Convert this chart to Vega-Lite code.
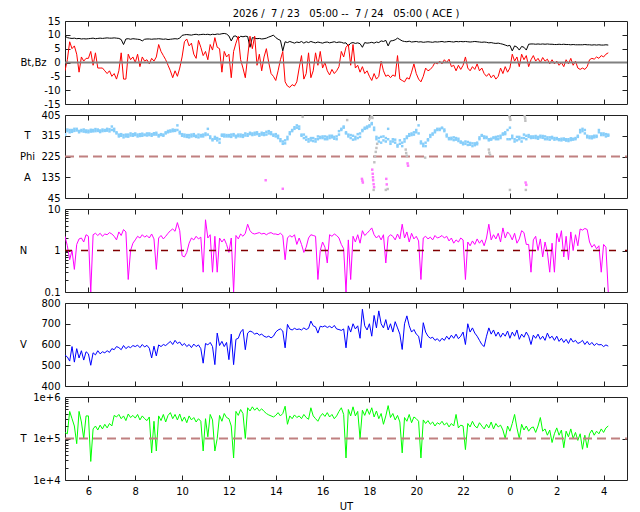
{
  "$schema": "https://vega.github.io/schema/vega-lite/v6.json",
  "padding": {"left": 18, "top": 8, "right": 5, "bottom": 5},
  "title": {
    "text": "2026 /\u00a0\u00a07 / 23\u00a0\u00a0\u00a005:00 --\u00a0\u00a07 / 24\u00a0\u00a0\u00a005:00 ( ACE )",
    "frame": "group", "anchor": "middle", "fontSize": 10, "fontWeight": "normal",
    "font": "DejaVu Sans", "color": "#000", "offset": -3
  },
  "config": {
    "view": {"stroke": "#222", "strokeWidth": 1},
    "font": "DejaVu Sans",
    "axis": {
      "domain": false, "grid": false, "labelFont": "DejaVu Sans", "labelFontSize": 10,
      "labelColor": "#000", "tickColor": "#222", "tickSize": -5, "labelPadding": 10,
      "titleFont": "DejaVu Sans", "titleFontSize": 10, "titleFontWeight": "normal",
      "titleColor": "#000", "labelOverlap": false, "labelFlush": false, "labelBound": false
    }
  },
  "datasets": {
    "main": [
      {"h":5.0,"bt":9.5,"bz":-3,"p":322,"q":318,"n":2.2,"v":548,"t":140000},
      {"h":5.1,"bt":9.0,"bz":1,"p":335,"q":342,"n":1.3,"v":540,"t":130000},
      {"h":5.2,"bt":8.8,"bz":7.5,"p":340,"q":330,"n":0.6,"v":520,"t":450000},
      {"h":5.3,"bt":8.7,"bz":5,"p":332,"q":340,"n":1.0,"v":590,"t":300000},
      {"h":5.4,"bt":8.8,"bz":6,"p":345,"q":336,"n":0.35,"v":515,"t":200000},
      {"h":5.5,"bt":8.6,"bz":3,"p":338,"q":345,"n":1.4,"v":580,"t":75000},
      {"h":5.6,"bt":8.7,"bz":-3.5,"p":336,"q":330,"n":1.9,"v":535,"t":450000},
      {"h":5.7,"bt":8.5,"bz":2,"p":340,"q":335,"n":2.0,"v":570,"t":250000},
      {"h":5.8,"bt":8.6,"bz":0.5,"p":333,"q":342,"n":1.6,"v":525,"t":100000},
      {"h":5.9,"bt":8.5,"bz":1.5,"p":338,"q":331,"n":2.4,"v":565,"t":350000},
      {"h":6.0,"bt":8.6,"bz":1.5,"p":337,"q":330,"n":2.2,"v":555,"t":350000},
      {"h":6.1,"bt":8.7,"bz":4,"p":333,"q":341,"n":0.1,"v":500,"t":28000},
      {"h":6.2,"bt":8.8,"bz":-1,"p":340,"q":334,"n":2.4,"v":560,"t":170000},
      {"h":6.3,"bt":8.6,"bz":3.5,"p":335,"q":344,"n":2.6,"v":550,"t":200000},
      {"h":6.4,"bt":8.7,"bz":-2,"p":342,"q":336,"n":2.3,"v":570,"t":160000},
      {"h":6.5,"bt":8.8,"bz":-2,"p":338,"q":331,"n":2.6,"v":555,"t":210000},
      {"h":6.6,"bt":8.7,"bz":-2,"p":335,"q":342,"n":2.2,"v":565,"t":170000},
      {"h":6.7,"bt":8.8,"bz":-3,"p":340,"q":336,"n":2.5,"v":560,"t":220000},
      {"h":6.8,"bt":8.9,"bz":-4,"p":337,"q":345,"n":2.4,"v":570,"t":180000},
      {"h":6.9,"bt":8.8,"bz":-3,"p":343,"q":334,"n":2.7,"v":562,"t":230000},
      {"h":7.0,"bt":8.8,"bz":-5,"p":355,"q":340,"n":2.5,"v":580,"t":200000},
      {"h":7.1,"bt":8.9,"bz":-4,"p":335,"q":345,"n":2.2,"v":575,"t":360000},
      {"h":7.2,"bt":8.8,"bz":-6,"p":325,"q":330,"n":1.8,"v":590,"t":330000},
      {"h":7.3,"bt":8.7,"bz":-3,"p":320,"q":312,"n":2.8,"v":585,"t":380000},
      {"h":7.4,"bt":8.3,"bz":3.5,"p":315,"q":322,"n":2.3,"v":575,"t":300000},
      {"h":7.5,"bt":6.5,"bz":-6,"p":318,"q":308,"n":3.2,"v":595,"t":350000},
      {"h":7.6,"bt":8.5,"bz":-6,"p":312,"q":320,"n":2.8,"v":580,"t":270000},
      {"h":7.7,"bt":8.6,"bz":3,"p":320,"q":311,"n":0.2,"v":590,"t":390000},
      {"h":7.8,"bt":8.4,"bz":1,"p":316,"q":325,"n":1.0,"v":585,"t":320000},
      {"h":7.9,"bt":8.6,"bz":2,"p":322,"q":315,"n":1.5,"v":595,"t":360000},
      {"h":8.0,"bt":8.5,"bz":0,"p":318,"q":325,"n":1.8,"v":590,"t":310000},
      {"h":8.1,"bt":8.4,"bz":3,"p":312,"q":320,"n":2.2,"v":597,"t":380000},
      {"h":8.2,"bt":8.3,"bz":-1.5,"p":322,"q":314,"n":2.0,"v":585,"t":280000},
      {"h":8.3,"bt":7.8,"bz":2,"p":315,"q":324,"n":2.4,"v":600,"t":350000},
      {"h":8.4,"bt":8.4,"bz":0.5,"p":320,"q":318,"n":2.1,"v":588,"t":300000},
      {"h":8.5,"bt":8.5,"bz":1,"p":325,"q":316,"n":2.3,"v":596,"t":270000},
      {"h":8.6,"bt":8.5,"bz":-0.5,"p":318,"q":325,"n":2.0,"v":582,"t":330000},
      {"h":8.7,"bt":8.4,"bz":1.5,"p":322,"q":315,"n":2.5,"v":535,"t":45000},
      {"h":8.8,"bt":8.5,"bz":0.5,"p":326,"q":320,"n":1.9,"v":592,"t":260000},
      {"h":8.9,"bt":8.5,"bz":2,"p":320,"q":328,"n":0.35,"v":545,"t":50000},
      {"h":9.0,"bt":8.6,"bz":6.5,"p":318,"q":312,"n":2.0,"v":598,"t":350000},
      {"h":9.1,"bt":8.5,"bz":4,"p":322,"q":318,"n":2.3,"v":590,"t":270000},
      {"h":9.2,"bt":8.4,"bz":2.5,"p":315,"q":320,"n":1.9,"v":600,"t":380000},
      {"h":9.3,"bt":8.5,"bz":1,"p":325,"q":330,"n":2.2,"v":595,"t":250000},
      {"h":9.4,"bt":8.3,"bz":-1,"p":330,"q":336,"n":2.6,"v":605,"t":360000},
      {"h":9.5,"bt":8.4,"bz":-3,"p":338,"q":333,"n":3.0,"v":615,"t":420000},
      {"h":9.6,"bt":8.5,"bz":-5.5,"p":335,"q":342,"n":3.3,"v":600,"t":300000},
      {"h":9.7,"bt":8.6,"bz":-3,"p":340,"q":336,"n":2.9,"v":620,"t":380000},
      {"h":9.8,"bt":8.5,"bz":-5,"p":360,"q":340,"n":4.7,"v":605,"t":280000},
      {"h":9.9,"bt":8.8,"bz":-2,"p":332,"q":325,"n":3.0,"v":612,"t":390000},
      {"h":10.0,"bt":9.8,"bz":2,"p":315,"q":322,"n":0.75,"v":595,"t":260000},
      {"h":10.1,"bt":10.0,"bz":7.5,"p":320,"q":312,"n":0.7,"v":605,"t":330000},
      {"h":10.2,"bt":10.1,"bz":8.5,"p":310,"q":318,"n":0.9,"v":590,"t":240000},
      {"h":10.3,"bt":10.0,"bz":6,"p":318,"q":308,"n":1.5,"v":600,"t":350000},
      {"h":10.4,"bt":9.9,"bz":7,"p":312,"q":320,"n":2.0,"v":585,"t":280000},
      {"h":10.5,"bt":10.1,"bz":3,"p":322,"q":314,"n":1.8,"v":602,"t":320000},
      {"h":10.6,"bt":10.2,"bz":1.5,"p":315,"q":310,"n":2.2,"v":590,"t":250000},
      {"h":10.7,"bt":10.0,"bz":8,"p":308,"q":320,"n":1.9,"v":598,"t":300000},
      {"h":10.8,"bt":10.1,"bz":5.5,"p":318,"q":312,"n":2.1,"v":580,"t":260000},
      {"h":10.9,"bt":10.2,"bz":2.5,"p":312,"q":320,"n":0.3,"v":510,"t":50000},
      {"h":11.0,"bt":10.1,"bz":4,"p":318,"q":325,"n":5.5,"v":605,"t":300000},
      {"h":11.1,"bt":10.2,"bz":1,"p":345,"q":320,"n":2.0,"v":598,"t":110000},
      {"h":11.2,"bt":10.0,"bz":6.5,"p":305,"q":312,"n":2.4,"v":610,"t":380000},
      {"h":11.3,"bt":10.2,"bz":4.5,"p":300,"q":295,"n":0.3,"v":590,"t":280000},
      {"h":11.4,"bt":10.1,"bz":9,"p":310,"q":302,"n":2.2,"v":503,"t":50000},
      {"h":11.5,"bt":10.3,"bz":5.5,"p":295,"q":305,"n":0.3,"v":655,"t":100000},
      {"h":11.6,"bt":10.2,"bz":5,"p":285,"q":300,"n":2.0,"v":595,"t":360000},
      {"h":11.7,"bt":10.4,"bz":-3.5,"p":315,"q":320,"n":1.6,"v":615,"t":260000},
      {"h":11.8,"bt":10.5,"bz":4,"p":320,"q":312,"n":1.9,"v":590,"t":400000},
      {"h":11.9,"bt":10.3,"bz":2,"p":312,"q":318,"n":1.4,"v":610,"t":320000},
      {"h":12.0,"bt":9.6,"bz":3,"p":318,"q":312,"n":0.9,"v":527,"t":300000},
      {"h":12.1,"bt":7.8,"bz":-5.5,"p":310,"q":320,"n":2.0,"v":650,"t":200000},
      {"h":12.2,"bt":9.5,"bz":4,"p":322,"q":316,"n":0.1,"v":503,"t":34000},
      {"h":12.3,"bt":9.6,"bz":7,"p":315,"q":308,"n":2.3,"v":625,"t":450000},
      {"h":12.4,"bt":8.6,"bz":9.5,"p":320,"q":313,"n":1.9,"v":630,"t":360000},
      {"h":12.5,"bt":9.5,"bz":1,"p":312,"q":320,"n":2.5,"v":660,"t":500000},
      {"h":12.6,"bt":9.3,"bz":-2,"p":318,"q":310,"n":2.2,"v":673,"t":400000},
      {"h":12.7,"bt":9.5,"bz":-5.5,"p":325,"q":316,"n":2.6,"v":575,"t":100000},
      {"h":12.8,"bt":9.4,"bz":2,"p":315,"q":322,"n":4.3,"v":655,"t":550000},
      {"h":12.9,"bt":5.5,"bz":9.5,"p":322,"q":328,"n":3.0,"v":665,"t":460000},
      {"h":13.0,"bt":9.0,"bz":5,"p":325,"q":318,"n":2.6,"v":660,"t":580000},
      {"h":13.1,"bt":8.8,"bz":9.5,"p":320,"q":328,"n":2.5,"v":650,"t":480000},
      {"h":13.2,"bt":8.6,"bz":-1,"p":330,"q":322,"n":2.6,"v":655,"t":550000},
      {"h":13.3,"bt":8.7,"bz":3,"p":322,"q":315,"n":2.7,"v":645,"t":460000},
      {"h":13.4,"bt":8.5,"bz":-3,"p":328,"q":320,"n":2.5,"v":650,"t":520000},
      {"h":13.5,"bt":8.6,"bz":2,"p":318,"q":326,"n":2.6,"v":640,"t":450000},
      {"h":13.6,"bt":8.8,"bz":5,"p":332,"q":320,"n":2.4,"v":635,"t":400000},
      {"h":13.7,"bt":9.2,"bz":0,"p":325,"q":335,"n":2.6,"v":640,"t":370000},
      {"h":13.8,"bt":9.5,"bz":-4,"p":330,"q":322,"n":2.7,"v":632,"t":350000},
      {"h":13.9,"bt":9.9,"bz":-5,"p":320,"q":315,"n":2.5,"v":640,"t":330000},
      {"h":14.0,"bt":9.0,"bz":-6.5,"p":322,"q":312,"n":2.5,"v":660,"t":360000},
      {"h":14.1,"bt":8.4,"bz":-3,"p":315,"q":305,"n":2.4,"v":670,"t":420000},
      {"h":14.2,"bt":8.0,"bz":1,"p":300,"q":292,"n":2.6,"v":675,"t":350000},
      {"h":14.3,"bt":4.2,"bz":4,"p":290,"q":280,"n":2.3,"v":665,"t":400000},
      {"h":14.4,"bt":7.5,"bz":-7,"p":282,"q":295,"n":0.6,"v":584,"t":600000},
      {"h":14.5,"bt":7.2,"bz":-8.5,"p":300,"q":310,"n":2.0,"v":697,"t":220000},
      {"h":14.6,"bt":7.6,"bz":-9,"p":322,"q":330,"n":2.3,"v":675,"t":350000},
      {"h":14.7,"bt":7.3,"bz":-8,"p":335,"q":340,"n":2.1,"v":670,"t":300000},
      {"h":14.8,"bt":7.0,"bz":-8.5,"p":345,"q":352,"n":2.4,"v":678,"t":370000},
      {"h":14.9,"bt":7.4,"bz":-7,"p":350,"q":360,"n":1.4,"v":672,"t":320000},
      {"h":15.0,"bt":7.2,"bz":-2,"p":345,"q":355,"n":2.0,"v":675,"t":350000},
      {"h":15.1,"bt":7.6,"bz":2.5,"p":320,"q":315,"n":1.4,"v":670,"t":300000},
      {"h":15.2,"bt":7.0,"bz":-6,"p":320,"q":305,"n":0.9,"v":680,"t":380000},
      {"h":15.3,"bt":7.5,"bz":-4,"p":310,"q":298,"n":1.2,"v":672,"t":320000},
      {"h":15.4,"bt":7.2,"bz":3.5,"p":300,"q":290,"n":2.0,"v":678,"t":290000},
      {"h":15.5,"bt":7.6,"bz":-5.5,"p":295,"q":305,"n":2.4,"v":713,"t":550000},
      {"h":15.6,"bt":7.3,"bz":-3,"p":305,"q":292,"n":2.3,"v":690,"t":350000},
      {"h":15.7,"bt":7.1,"bz":3.5,"p":290,"q":300,"n":2.2,"v":685,"t":300000},
      {"h":15.8,"bt":7.4,"bz":-1,"p":300,"q":312,"n":0.2,"v":655,"t":260000},
      {"h":15.9,"bt":7.2,"bz":4,"p":310,"q":305,"n":1.0,"v":688,"t":340000},
      {"h":16.0,"bt":7.0,"bz":-2,"p":305,"q":312,"n":1.6,"v":685,"t":400000},
      {"h":16.1,"bt":7.3,"bz":0,"p":312,"q":300,"n":1.2,"v":690,"t":340000},
      {"h":16.2,"bt":7.4,"bz":-3,"p":300,"q":310,"n":0.5,"v":682,"t":420000},
      {"h":16.3,"bt":7.1,"bz":-4.5,"p":315,"q":305,"n":2.4,"v":688,"t":330000},
      {"h":16.4,"bt":7.3,"bz":-2.5,"p":308,"q":315,"n":2.2,"v":680,"t":380000},
      {"h":16.5,"bt":7.5,"bz":-4,"p":302,"q":310,"n":2.5,"v":692,"t":300000},
      {"h":16.6,"bt":7.2,"bz":-3,"p":312,"q":300,"n":2.3,"v":675,"t":350000},
      {"h":16.7,"bt":7.4,"bz":-1.5,"p":320,"q":335,"n":2.0,"v":672,"t":450000},
      {"h":16.8,"bt":7.3,"bz":4,"p":345,"q":340,"n":1.4,"v":668,"t":550000},
      {"h":16.9,"bt":7.0,"bz":2,"p":350,"q":355,"n":1.1,"v":675,"t":380000},
      {"h":17.0,"bt":7.1,"bz":5.5,"p":330,"q":325,"n":0.1,"v":584,"t":34000},
      {"h":17.1,"bt":6.0,"bz":6.5,"p":320,"q":312,"n":1.8,"v":690,"t":500000},
      {"h":17.2,"bt":7.0,"bz":-1,"p":305,"q":318,"n":0.2,"v":660,"t":350000},
      {"h":17.3,"bt":7.2,"bz":6.5,"p":315,"q":298,"n":2.2,"v":700,"t":580000},
      {"h":17.4,"bt":6.9,"bz":-2,"p":300,"q":310,"n":1.6,"v":675,"t":350000},
      {"h":17.5,"bt":7.1,"bz":-1,"p":322,"q":305,"n":2.4,"v":690,"t":450000},
      {"h":17.6,"bt":6.8,"bz":-3.5,"p":310,"q":325,"n":1.5,"v":630,"t":100000},
      {"h":17.7,"bt":5.5,"bz":-1.5,"p":340,"q":335,"n":3.0,"v":770,"t":480000},
      {"h":17.8,"bt":7.2,"bz":-4,"p":345,"q":350,"n":2.3,"v":690,"t":360000},
      {"h":17.9,"bt":7.0,"bz":-3,"p":355,"q":348,"n":2.6,"v":670,"t":520000},
      {"h":18.0,"bt":7.1,"bz":-5,"p":360,"q":355,"n":3.0,"v":700,"t":380000},
      {"h":18.1,"bt":7.3,"bz":-6.5,"p":370,"q":365,"n":3.5,"v":640,"t":550000},
      {"h":18.2,"bt":7.0,"bz":-4,"p":350,"q":340,"n":2.4,"v":740,"t":330000},
      {"h":18.3,"bt":7.4,"bz":-6,"p":300,"q":310,"n":2.0,"v":680,"t":460000},
      {"h":18.4,"bt":7.2,"bz":-5,"p":290,"q":305,"n":2.3,"v":762,"t":300000},
      {"h":18.5,"bt":7.8,"bz":0.5,"p":310,"q":285,"n":1.8,"v":700,"t":400000},
      {"h":18.6,"bt":7.6,"bz":-3,"p":295,"q":312,"n":2.4,"v":680,"t":220000},
      {"h":18.7,"bt":8.0,"bz":-5,"p":305,"q":290,"n":0.5,"v":720,"t":350000},
      {"h":18.8,"bt":6.0,"bz":-4.5,"p":345,"q":300,"n":2.1,"v":670,"t":620000},
      {"h":18.9,"bt":7.8,"bz":-5.5,"p":290,"q":280,"n":2.4,"v":700,"t":320000},
      {"h":19.0,"bt":7.9,"bz":-4.5,"p":300,"q":290,"n":2.2,"v":660,"t":400000},
      {"h":19.1,"bt":8.2,"bz":-5,"p":285,"q":298,"n":1.8,"v":710,"t":280000},
      {"h":19.2,"bt":8.8,"bz":2.5,"p":275,"q":268,"n":2.5,"v":680,"t":360000},
      {"h":19.3,"bt":8.3,"bz":-6,"p":295,"q":280,"n":1.9,"v":650,"t":250000},
      {"h":19.4,"bt":7.8,"bz":-6.5,"p":270,"q":285,"n":4.3,"v":576,"t":45000},
      {"h":19.5,"bt":7.6,"bz":-7,"p":290,"q":300,"n":2.0,"v":700,"t":320000},
      {"h":19.6,"bt":7.5,"bz":-5.5,"p":305,"q":312,"n":2.8,"v":738,"t":260000},
      {"h":19.7,"bt":7.7,"bz":-6,"p":315,"q":322,"n":1.6,"v":690,"t":380000},
      {"h":19.8,"bt":7.4,"bz":-3.5,"p":325,"q":318,"n":2.6,"v":660,"t":240000},
      {"h":19.9,"bt":7.5,"bz":-0.5,"p":320,"q":330,"n":1.9,"v":672,"t":330000},
      {"h":20.0,"bt":7.6,"bz":-4,"p":340,"q":330,"n":2.2,"v":650,"t":300000},
      {"h":20.1,"bt":7.4,"bz":-6,"p":360,"q":325,"n":1.7,"v":640,"t":260000},
      {"h":20.2,"bt":7.5,"bz":-7,"p":290,"q":282,"n":0.2,"v":584,"t":34000},
      {"h":20.3,"bt":7.3,"bz":-5,"p":280,"q":270,"n":2.0,"v":705,"t":280000},
      {"h":20.4,"bt":7.4,"bz":-2,"p":270,"q":285,"n":2.2,"v":660,"t":230000},
      {"h":20.5,"bt":7.5,"bz":-3,"p":300,"q":295,"n":1.9,"v":640,"t":270000},
      {"h":20.6,"bt":7.4,"bz":-2.5,"p":310,"q":318,"n":2.1,"v":630,"t":220000},
      {"h":20.7,"bt":7.3,"bz":-1.5,"p":320,"q":325,"n":1.8,"v":635,"t":250000},
      {"h":20.8,"bt":7.5,"bz":0,"p":330,"q":338,"n":2.3,"v":620,"t":200000},
      {"h":20.9,"bt":7.4,"bz":-0.5,"p":340,"q":345,"n":2.0,"v":628,"t":240000},
      {"h":21.0,"bt":7.5,"bz":0.5,"p":345,"q":340,"n":2.1,"v":615,"t":220000},
      {"h":21.1,"bt":7.6,"bz":-0.5,"p":348,"q":350,"n":2.3,"v":630,"t":260000},
      {"h":21.2,"bt":7.4,"bz":1,"p":342,"q":335,"n":2.0,"v":620,"t":210000},
      {"h":21.3,"bt":7.5,"bz":0,"p":320,"q":312,"n":2.2,"v":640,"t":240000},
      {"h":21.4,"bt":7.6,"bz":1.2,"p":305,"q":300,"n":1.7,"v":625,"t":190000},
      {"h":21.5,"bt":7.5,"bz":-1.5,"p":300,"q":306,"n":2.0,"v":645,"t":230000},
      {"h":21.6,"bt":7.4,"bz":-1,"p":308,"q":296,"n":1.5,"v":630,"t":200000},
      {"h":21.7,"bt":7.6,"bz":-3,"p":298,"q":305,"n":1.8,"v":650,"t":380000},
      {"h":21.8,"bt":7.5,"bz":-1,"p":302,"q":292,"n":1.6,"v":628,"t":180000},
      {"h":21.9,"bt":7.6,"bz":-2.5,"p":290,"q":285,"n":2.0,"v":640,"t":210000},
      {"h":22.0,"bt":7.5,"bz":-1,"p":285,"q":278,"n":1.8,"v":660,"t":200000},
      {"h":22.1,"bt":7.6,"bz":2,"p":280,"q":290,"n":0.2,"v":600,"t":54000},
      {"h":22.2,"bt":7.5,"bz":-2,"p":288,"q":275,"n":1.6,"v":700,"t":230000},
      {"h":22.3,"bt":7.4,"bz":-3,"p":276,"q":284,"n":1.3,"v":660,"t":190000},
      {"h":22.4,"bt":7.5,"bz":-1.5,"p":282,"q":270,"n":1.7,"v":680,"t":260000},
      {"h":22.5,"bt":7.6,"bz":-2.5,"p":274,"q":282,"n":1.4,"v":655,"t":200000},
      {"h":22.6,"bt":7.5,"bz":-0.5,"p":285,"q":278,"n":1.9,"v":640,"t":180000},
      {"h":22.7,"bt":7.4,"bz":-3,"p":300,"q":308,"n":1.5,"v":620,"t":240000},
      {"h":22.8,"bt":7.3,"bz":-2,"p":315,"q":318,"n":1.8,"v":600,"t":200000},
      {"h":22.9,"bt":7.4,"bz":-4,"p":312,"q":305,"n":1.3,"v":590,"t":170000},
      {"h":23.0,"bt":7.3,"bz":-5,"p":305,"q":310,"n":2.0,"v":640,"t":220000},
      {"h":23.1,"bt":7.1,"bz":-4,"p":300,"q":295,"n":4.3,"v":680,"t":180000},
      {"h":23.2,"bt":7.2,"bz":-5.5,"p":298,"q":302,"n":1.8,"v":650,"t":250000},
      {"h":23.3,"bt":7.0,"bz":-4.5,"p":305,"q":308,"n":2.4,"v":670,"t":170000},
      {"h":23.4,"bt":6.9,"bz":-6,"p":310,"q":300,"n":1.9,"v":640,"t":230000},
      {"h":23.5,"bt":7.0,"bz":-5,"p":300,"q":312,"n":2.6,"v":660,"t":190000},
      {"h":23.6,"bt":6.8,"bz":-2,"p":315,"q":305,"n":1.6,"v":635,"t":210000},
      {"h":23.7,"bt":6.6,"bz":-4,"p":320,"q":325,"n":3.5,"v":655,"t":160000},
      {"h":23.8,"bt":6.3,"bz":-1.5,"p":330,"q":322,"n":2.0,"v":640,"t":100000},
      {"h":23.9,"bt":6.0,"bz":-3.5,"p":340,"q":300,"n":2.8,"v":665,"t":200000},
      {"h":24.0,"bt":6.2,"bz":-2,"p":350,"q":300,"n":2.4,"v":630,"t":150000},
      {"h":24.1,"bt":4.2,"bz":3,"p":305,"q":315,"n":1.8,"v":660,"t":230000},
      {"h":24.2,"bt":6.0,"bz":0.5,"p":300,"q":290,"n":2.6,"v":640,"t":380000},
      {"h":24.3,"bt":5.6,"bz":2,"p":295,"q":310,"n":1.5,"v":670,"t":180000},
      {"h":24.4,"bt":4.5,"bz":-1.5,"p":310,"q":300,"n":1.9,"v":625,"t":100000},
      {"h":24.5,"bt":5.8,"bz":3,"p":290,"q":305,"n":3.0,"v":650,"t":220000},
      {"h":24.6,"bt":5.5,"bz":1,"p":305,"q":320,"n":2.7,"v":635,"t":160000},
      {"h":24.7,"bt":4.5,"bz":2.5,"p":315,"q":300,"n":1.4,"v":660,"t":200000},
      {"h":24.8,"bt":6.6,"bz":-1.5,"p":310,"q":318,"n":1.4,"v":640,"t":150000},
      {"h":24.9,"bt":6.7,"bz":1,"p":305,"q":312,"n":0.3,"v":600,"t":180000},
      {"h":25.0,"bt":6.7,"bz":2.5,"p":312,"q":306,"n":1.8,"v":645,"t":190000},
      {"h":25.1,"bt":6.6,"bz":0.5,"p":305,"q":314,"n":2.2,"v":630,"t":140000},
      {"h":25.2,"bt":6.7,"bz":1.5,"p":310,"q":302,"n":1.0,"v":650,"t":200000},
      {"h":25.3,"bt":6.6,"bz":0,"p":315,"q":308,"n":1.9,"v":625,"t":320000},
      {"h":25.4,"bt":6.7,"bz":1.8,"p":306,"q":314,"n":0.7,"v":640,"t":150000},
      {"h":25.5,"bt":6.6,"bz":0.5,"p":312,"q":300,"n":1.6,"v":620,"t":170000},
      {"h":25.6,"bt":6.7,"bz":1.2,"p":300,"q":308,"n":0.9,"v":655,"t":120000},
      {"h":25.7,"bt":6.6,"bz":-0.5,"p":308,"q":298,"n":0.3,"v":630,"t":160000},
      {"h":25.8,"bt":6.6,"bz":1,"p":304,"q":310,"n":1.5,"v":640,"t":80000},
      {"h":25.9,"bt":6.5,"bz":-0.5,"p":298,"q":305,"n":0.3,"v":620,"t":130000},
      {"h":26.0,"bt":6.5,"bz":0.5,"p":300,"q":305,"n":2.6,"v":640,"t":180000},
      {"h":26.1,"bt":6.6,"bz":-1,"p":296,"q":300,"n":1.6,"v":615,"t":120000},
      {"h":26.2,"bt":6.5,"bz":0,"p":302,"q":295,"n":3.0,"v":630,"t":160000},
      {"h":26.3,"bt":6.6,"bz":-1.5,"p":298,"q":303,"n":0.7,"v":610,"t":60000},
      {"h":26.4,"bt":6.5,"bz":1,"p":294,"q":300,"n":2.2,"v":625,"t":150000},
      {"h":26.5,"bt":6.5,"bz":-0.5,"p":300,"q":292,"n":0.6,"v":605,"t":110000},
      {"h":26.6,"bt":6.4,"bz":1.5,"p":296,"q":304,"n":2.8,"v":630,"t":170000},
      {"h":26.7,"bt":6.5,"bz":-1,"p":302,"q":298,"n":1.0,"v":612,"t":100000},
      {"h":26.8,"bt":6.4,"bz":0.5,"p":305,"q":300,"n":2.4,"v":620,"t":140000},
      {"h":26.9,"bt":6.4,"bz":-2,"p":310,"q":315,"n":1.3,"v":605,"t":90000},
      {"h":27.0,"bt":6.4,"bz":-2.5,"p":330,"q":340,"n":3.3,"v":610,"t":130000},
      {"h":27.1,"bt":6.4,"bz":-2,"p":345,"q":335,"n":3.1,"v":620,"t":55000},
      {"h":27.2,"bt":6.5,"bz":-2.5,"p":340,"q":325,"n":3.4,"v":600,"t":120000},
      {"h":27.3,"bt":6.4,"bz":-1.5,"p":315,"q":308,"n":3.2,"v":615,"t":60000},
      {"h":27.4,"bt":6.4,"bz":1,"p":305,"q":312,"n":1.6,"v":598,"t":130000},
      {"h":27.5,"bt":6.3,"bz":1.5,"p":312,"q":304,"n":1.2,"v":610,"t":160000},
      {"h":27.6,"bt":6.4,"bz":1.2,"p":308,"q":315,"n":1.4,"v":595,"t":120000},
      {"h":27.7,"bt":6.3,"bz":2,"p":315,"q":310,"n":1.1,"v":605,"t":150000},
      {"h":27.8,"bt":6.4,"bz":1.5,"p":340,"q":330,"n":1.3,"v":598,"t":130000},
      {"h":27.9,"bt":6.3,"bz":2.5,"p":325,"q":318,"n":0.3,"v":600,"t":170000},
      {"h":28.0,"bt":6.3,"bz":2,"p":318,"q":325,"n":1.4,"v":590,"t":140000},
      {"h":28.1,"bt":6.4,"bz":3,"p":322,"q":312,"n":1.2,"v":598,"t":180000},
      {"h":28.2,"bt":6.3,"bz":3.5,"p":315,"q":320,"n":0.1,"v":592,"t":200000}
    ],
    "phx": [
      {"h":13.57,"p":122,"s":"A"},{"h":14.3,"p":85,"s":"A"},{"h":15.15,"p":397,"s":"X"},{"h":17.05,"p":383,"s":"X"},
      {"h":17.68,"p":128,"s":"A"},{"h":17.7,"p":120,"s":"A"},{"h":17.72,"p":112,"s":"A"},
      {"h":18.0,"p":388,"s":"X"},{"h":18.05,"p":395,"s":"X"},{"h":18.1,"p":402,"s":"X"},{"h":18.13,"p":392,"s":"X"},
      {"h":18.12,"p":168,"s":"A"},{"h":18.14,"p":150,"s":"A"},{"h":18.15,"p":135,"s":"A"},{"h":18.16,"p":122,"s":"A"},{"h":18.18,"p":105,"s":"A"},{"h":18.2,"p":92,"s":"A"},
      {"h":18.18,"p":80,"s":"X"},
      {"h":18.21,"p":200,"s":"X"},{"h":18.24,"p":225,"s":"X"},{"h":18.27,"p":245,"s":"X"},{"h":18.3,"p":262,"s":"X"},{"h":18.33,"p":280,"s":"X"},
      {"h":18.72,"p":128,"s":"A"},{"h":18.74,"p":104,"s":"A"},{"h":18.7,"p":80,"s":"X"},{"h":18.78,"p":84,"s":"X"},
      {"h":19.55,"p":255,"s":"X"},{"h":19.57,"p":240,"s":"X"},{"h":19.6,"p":228,"s":"X"},
      {"h":19.63,"p":195,"s":"A"},{"h":19.65,"p":185,"s":"A"},
      {"h":20.38,"p":220,"s":"X"},
      {"h":23.1,"p":255,"s":"X"},{"h":23.12,"p":242,"s":"X"},{"h":23.15,"p":232,"s":"X"},
      {"h":23.98,"p":400,"s":"X"},{"h":24.0,"p":392,"s":"X"},{"h":24.02,"p":384,"s":"X"},{"h":24.0,"p":80,"s":"X"},
      {"h":24.63,"p":400,"s":"X"},{"h":24.65,"p":390,"s":"X"},{"h":24.66,"p":380,"s":"X"},
      {"h":24.67,"p":112,"s":"A"},{"h":24.7,"p":102,"s":"A"},{"h":24.68,"p":80,"s":"X"}
    ]
  },
  "data": {"name": "main"},
  "bounds": "flush",
  "spacing": 11,
  "vconcat": [
    {
      "width": 562, "height": 83,
      "layer": [
        {
          "mark": {"type": "line", "color": "#000", "strokeWidth": 1, "clip": true},
          "encoding": {
            "x": {"field": "h", "type": "quantitative", "scale": {"domain": [5, 29], "nice": false, "zero": false},
                  "axis": {"orient": "bottom", "values": [6,8,10,12,14,16,18,20,22,24,26,28], "labels": false, "title": null}},
            "y": {"field": "bt", "type": "quantitative", "scale": {"domain": [-15, 15], "nice": false},
                  "axis": {"orient": "left", "values": [-15,-10,-5,0,5,10,15], "labelExpr": "'' + datum.value",
                           "title": "Bt,Bz", "titleAngle": 0, "titleAlign": "center", "titleBaseline": "middle", "titleX": -32, "titleY": 41.5}}
          }
        },
        {
          "mark": {"type": "line", "color": "#ff0000", "strokeWidth": 1, "clip": true},
          "encoding": {
            "x": {"field": "h", "type": "quantitative",
                  "axis": {"orient": "top", "values": [6,8,10,12,14,16,18,20,22,24,26,28], "labels": false, "title": null}},
            "y": {"field": "bz", "type": "quantitative",
                  "axis": {"orient": "right", "values": [-10,-5,5,10], "labels": false, "title": null}}
          }
        },
        {
          "data": {"values": [{}]},
          "mark": {"type": "rule", "color": "#808080", "strokeWidth": 2},
          "encoding": {"y": {"datum": 0, "type": "quantitative", "axis": null}}
        }
      ],
      "resolve": {"axis": {"x": "independent", "y": "independent"}}
    },
    {
      "width": 562, "height": 83,
      "layer": [
        {
          "data": {"values": [{}]},
          "mark": {"type": "rule", "color": "#c08080", "strokeWidth": 2, "strokeDash": [9, 5]},
          "encoding": {
            "x": {"datum": 5, "type": "quantitative", "axis": null},
            "x2": {"datum": 29},
            "y": {"datum": 225, "type": "quantitative", "scale": {"domain": [45, 405], "nice": false, "zero": false}, "axis": null}
          }
        },
        {
          "mark": {"type": "square", "size": 6, "color": "#87cefa", "opacity": 1, "filled": true, "clip": true},
          "encoding": {
            "x": {"field": "h", "type": "quantitative", "scale": {"domain": [5, 29], "nice": false, "zero": false},
                  "axis": {"orient": "bottom", "values": [6,8,10,12,14,16,18,20,22,24,26,28], "labels": false, "title": null}},
            "y": {"field": "p", "type": "quantitative",
                  "axis": {"orient": "left", "values": [45,135,225,315,405],
                           "title": ["T", "Phi", "A"], "titleLineHeight": 20.75, "titleAngle": 0, "titleAlign": "center", "titleBaseline": "middle", "titleX": -38, "titleY": 20.75}}
          }
        },
        {
          "mark": {"type": "square", "size": 6, "color": "#87cefa", "opacity": 1, "filled": true, "clip": true},
          "encoding": {
            "x": {"field": "h", "type": "quantitative",
                  "axis": {"orient": "top", "values": [6,8,10,12,14,16,18,20,22,24,26,28], "labels": false, "title": null}},
            "y": {"field": "q", "type": "quantitative",
                  "axis": {"orient": "right", "values": [135,225,315], "labels": false, "title": null}}
          }
        },
        {
          "data": {"name": "phx"},
          "mark": {"type": "square", "size": 6, "opacity": 1, "filled": true, "clip": true},
          "encoding": {
            "x": {"field": "h", "type": "quantitative", "axis": null},
            "y": {"field": "p", "type": "quantitative", "axis": null},
            "color": {"field": "s", "type": "nominal", "scale": {"domain": ["A", "X"], "range": ["#ff77ff", "#c0c0c0"]}, "legend": null}
          }
        }
      ],
      "resolve": {"axis": {"x": "independent", "y": "independent"}}
    },
    {
      "width": 562, "height": 83,
      "layer": [
        {
          "mark": {"type": "line", "color": "#ff00ff", "strokeWidth": 1, "clip": true},
          "encoding": {
            "x": {"field": "h", "type": "quantitative", "scale": {"domain": [5, 29], "nice": false, "zero": false},
                  "axis": {"orient": "bottom", "values": [6,8,10,12,14,16,18,20,22,24,26,28], "labels": false, "title": null}},
            "y": {"field": "n", "type": "quantitative", "scale": {"type": "log", "domain": [0.1, 10], "nice": false},
                  "axis": {"orient": "left", "values": [0.1,0.2,0.3,0.4,0.5,0.6,0.7,0.8,0.9,1,2,3,4,5,6,7,8,9,10],
                           "labelExpr": "datum.value < 0.15 ? '0.1' : datum.value == 1 ? '1' : datum.value == 10 ? '10' : ''",
                           "tickSize": {"condition": {"test": "datum.value < 0.15 || datum.value == 1 || datum.value == 10", "value": -5}, "value": -3},
                           "title": "N", "titleAngle": 0, "titleAlign": "center", "titleBaseline": "middle", "titleX": -42, "titleY": 41.5}}
          }
        },
        {
          "data": {"values": [{}]},
          "mark": {"type": "rule", "color": "#800000", "strokeWidth": 1.3, "strokeDash": [7, 9]},
          "encoding": {
            "x": {"datum": 5, "type": "quantitative", "axis": {"orient": "top", "values": [6,8,10,12,14,16,18,20,22,24,26,28], "labels": false, "title": null}},
            "x2": {"datum": 29},
            "y": {"datum": 1, "type": "quantitative", "axis": {"orient": "right", "values": [1], "labels": false, "title": null}}
          }
        }
      ],
      "resolve": {"axis": {"x": "independent", "y": "independent"}}
    },
    {
      "width": 562, "height": 83,
      "layer": [
        {
          "mark": {"type": "line", "color": "#0000ff", "strokeWidth": 1, "clip": true},
          "encoding": {
            "x": {"field": "h", "type": "quantitative", "scale": {"domain": [5, 29], "nice": false, "zero": false},
                  "axis": {"orient": "bottom", "values": [6,8,10,12,14,16,18,20,22,24,26,28], "labels": false, "title": null}},
            "y": {"field": "v", "type": "quantitative", "scale": {"domain": [400, 800], "nice": false, "zero": false},
                  "axis": {"orient": "left", "values": [400,500,600,700,800],
                           "title": "V", "titleAngle": 0, "titleAlign": "center", "titleBaseline": "middle", "titleX": -42, "titleY": 41.5}}
          }
        },
        {
          "mark": {"type": "line", "color": "#0000ff", "strokeWidth": 1, "clip": true, "opacity": 0},
          "encoding": {
            "x": {"field": "h", "type": "quantitative",
                  "axis": {"orient": "top", "values": [6,8,10,12,14,16,18,20,22,24,26,28], "labels": false, "title": null}},
            "y": {"field": "v", "type": "quantitative",
                  "axis": {"orient": "right", "values": [500,600,700], "labels": false, "title": null}}
          }
        }
      ],
      "resolve": {"axis": {"x": "independent", "y": "independent"}}
    },
    {
      "width": 562, "height": 83,
      "layer": [
        {
          "mark": {"type": "line", "color": "#00ff00", "strokeWidth": 1, "clip": true},
          "encoding": {
            "x": {"field": "h", "type": "quantitative", "scale": {"domain": [5, 29], "nice": false, "zero": false},
                  "axis": {"orient": "bottom", "values": [6,8,10,12,14,16,18,20,22,24,26,28], "labelExpr": "'' + (datum.value % 24)",
                           "labelPadding": 11, "title": "UT", "titlePadding": 5}},
            "y": {"field": "t", "type": "quantitative", "scale": {"type": "log", "domain": [10000, 1000000], "nice": false},
                  "axis": {"orient": "left", "values": [10000,20000,30000,40000,50000,60000,70000,80000,90000,100000,200000,300000,400000,500000,600000,700000,800000,900000,1000000],
                           "labelExpr": "datum.value == 10000 ? '1e+4' : datum.value == 100000 ? '1e+5' : datum.value == 1000000 ? '1e+6' : ''",
                           "tickSize": {"condition": {"test": "datum.value == 10000 || datum.value == 100000 || datum.value == 1000000", "value": -5}, "value": -3},
                           "title": "T", "titleAngle": 0, "titleAlign": "center", "titleBaseline": "middle", "titleX": -42, "titleY": 41.5}}
          }
        },
        {
          "data": {"values": [{}]},
          "mark": {"type": "rule", "color": "#c08080", "strokeWidth": 2, "strokeDash": [9, 5]},
          "encoding": {
            "x": {"datum": 5, "type": "quantitative", "axis": {"orient": "top", "values": [6,8,10,12,14,16,18,20,22,24,26,28], "labels": false, "title": null}},
            "x2": {"datum": 29},
            "y": {"datum": 100000, "type": "quantitative", "axis": {"orient": "right", "values": [100000], "labels": false, "title": null}}
          }
        }
      ],
      "resolve": {"axis": {"x": "independent", "y": "independent"}}
    }
  ]
}
